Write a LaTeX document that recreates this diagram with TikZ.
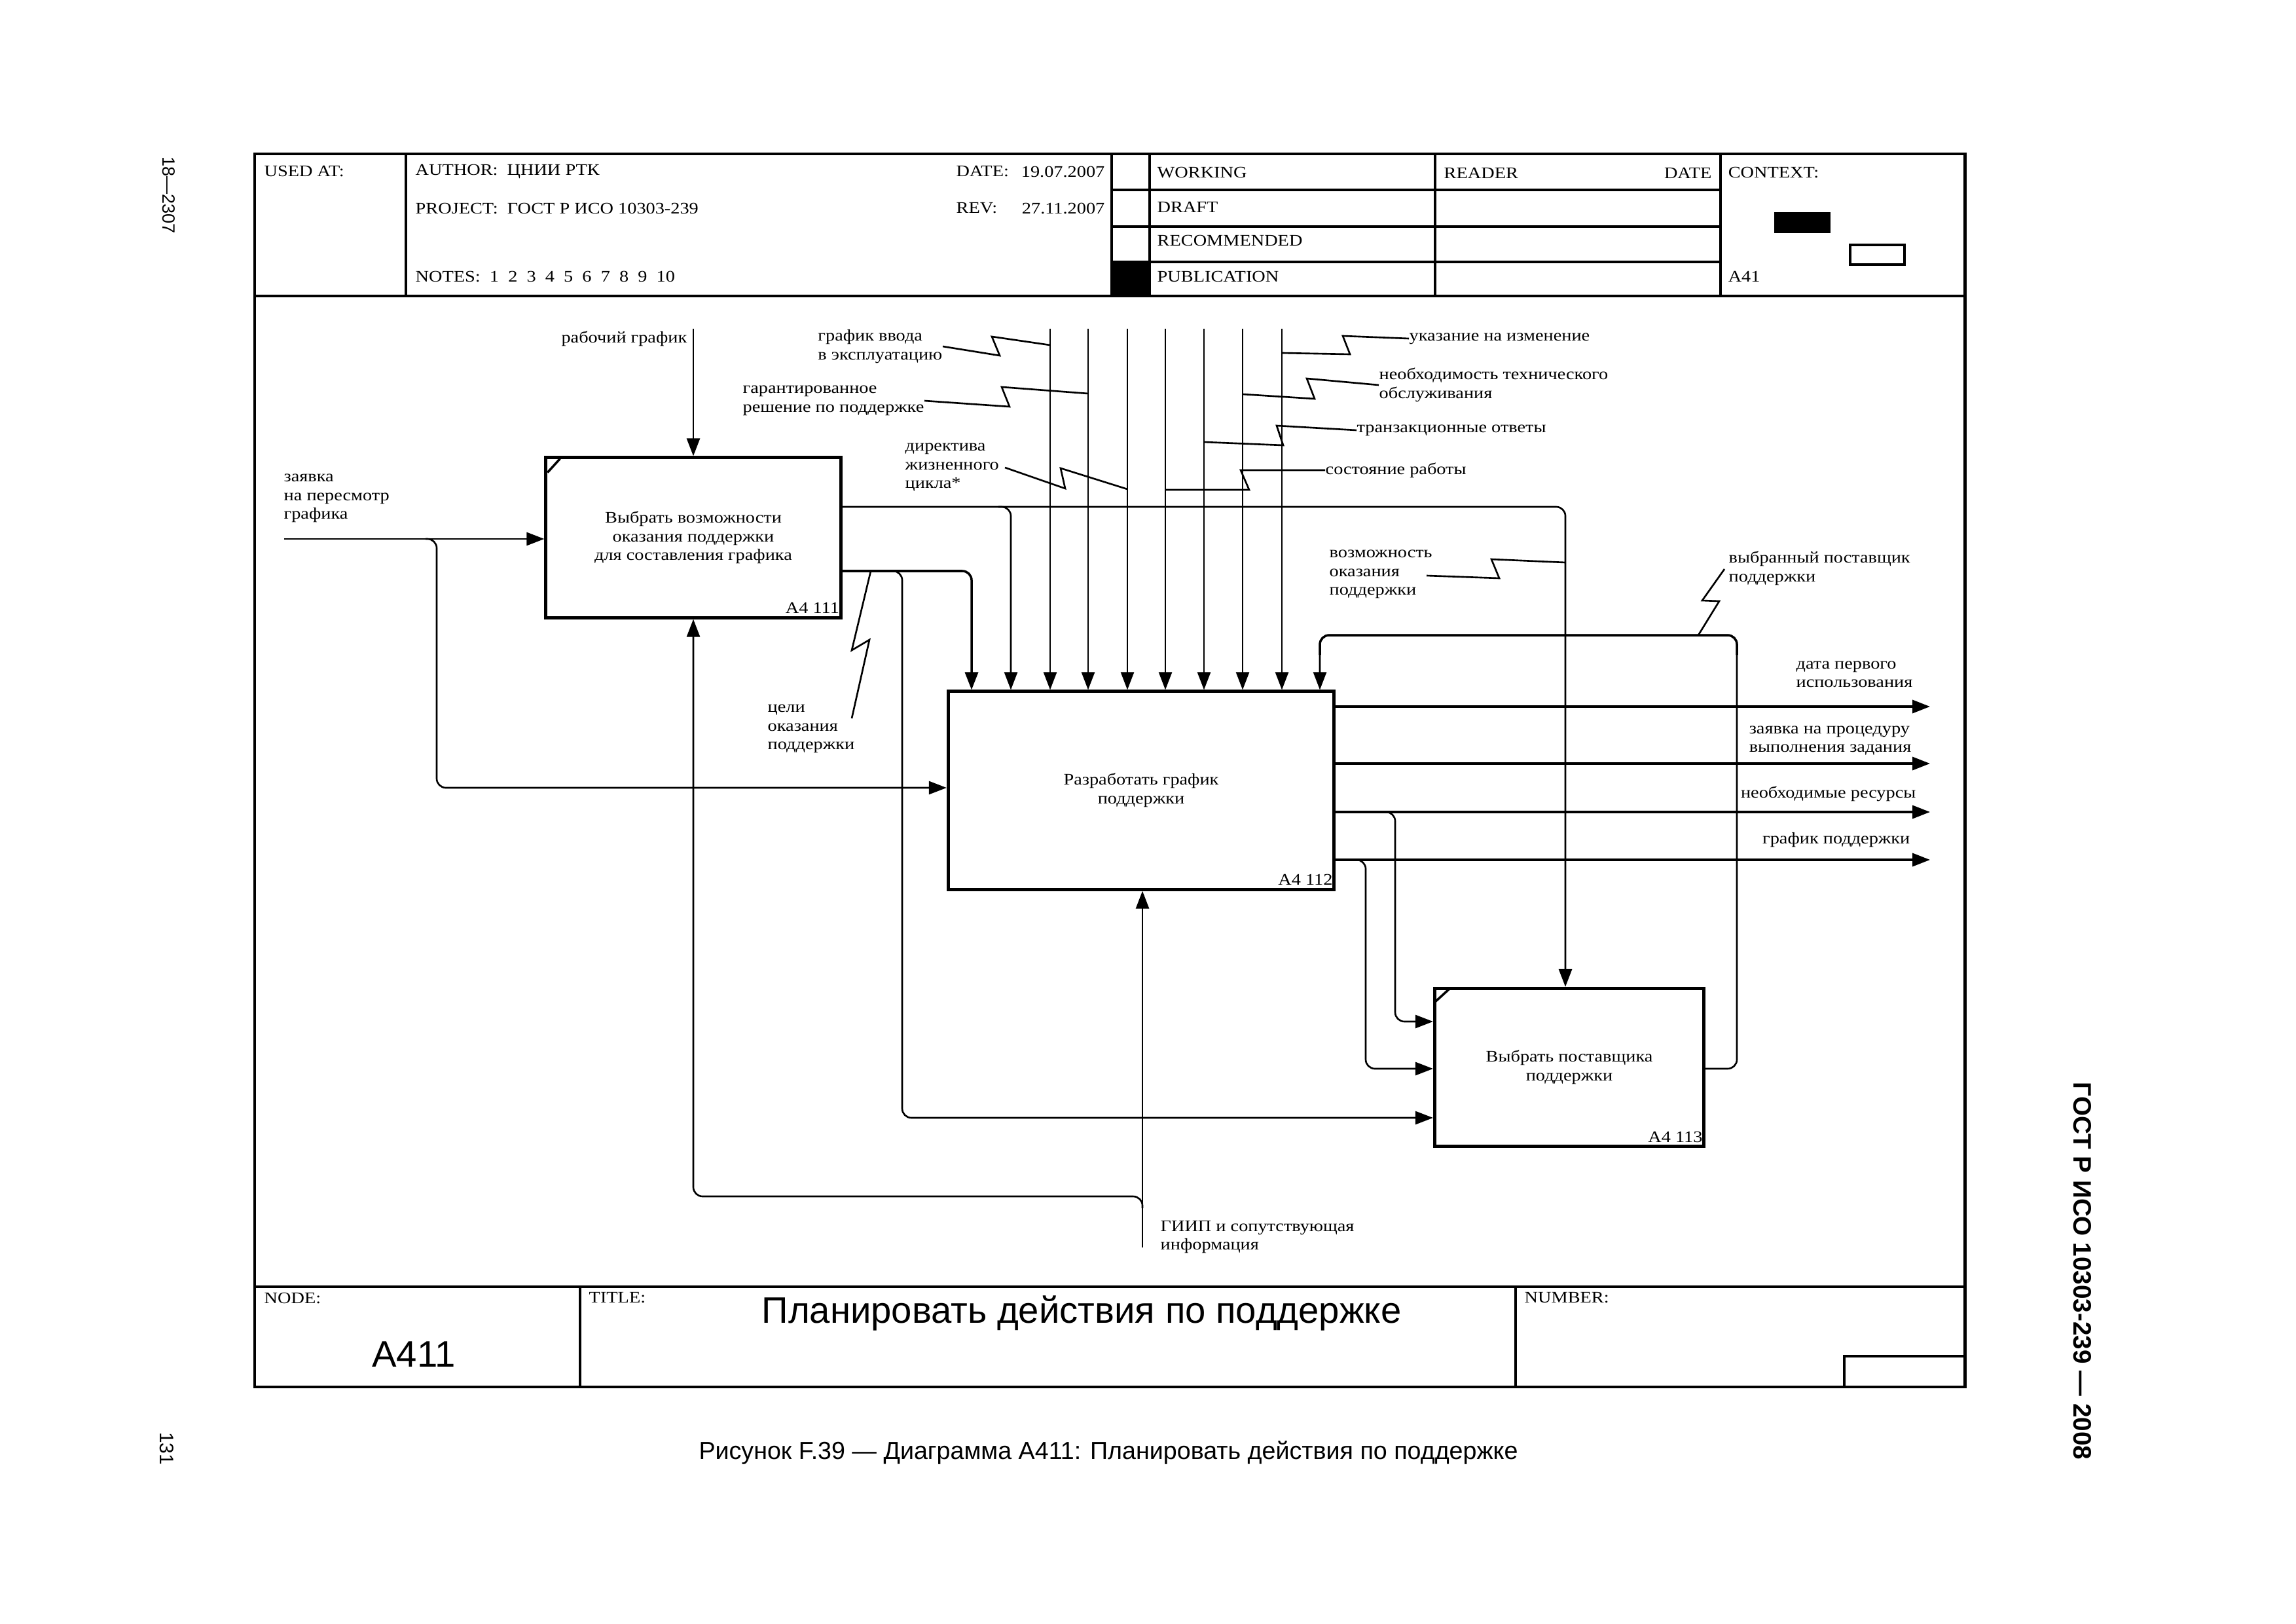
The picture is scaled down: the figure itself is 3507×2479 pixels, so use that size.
\documentclass[tikz,border=0pt]{standalone}
\usepackage{fontspec}
\setmainfont{Liberation Serif}
\newfontfamily\lblfam[FakeStretch=1.15]{Liberation Serif}
\newfontfamily\sansfam{Liberation Sans}
\newcommand\lblfont{\lblfam\fontsize{7}{8.1}\selectfont}
\usetikzlibrary{arrows.meta}

\tikzset{
    box/.style = {
        draw,
        line width   = 1.4pt,
        inner sep    = 0pt,
        align        = center,
        font         = \lblfont
    },
    lbl/.style = {font = \lblfont, inner sep = 0pt, align = left},
    hd/.style  = {font = \lblfont, inner sep = 0pt, anchor = west},
    arr/.style = {
        line width      = 0.75pt,
        rounded corners = 4pt,
        -{Triangle[length=0.27cm,width=0.2cm]}
    },
    heavy/.style = {line width = 1pt},
    lead/.style  = {line width = 0.75pt},
    frame/.style = {line width = 1.1pt}
}

\begin{document}
\begin{tikzpicture}[x=0.01cm, y=-0.01cm]
    \useasboundingbox (0,0) rectangle (3507,2479);

    \draw[line width=1.4pt] (389,235) rectangle (3001,2118);
    \draw[line width=1.4pt] (389,452) -- (3001,452);
    \draw[line width=1.4pt] (389,1965) -- (3001,1965);
    \foreach \x in {620,1698,1756,2192,2628}
        \draw[frame] (\x,235) -- (\x,452);
    \foreach \y in {290,346,400}
        \draw[line width=0.9pt] (1698,\y) -- (2628,\y);
    \fill (1698,400) rectangle (1756,452);
    \fill (2710,324) rectangle (2796,356);
    \draw[frame] (2826,374) rectangle (2909,404);
    \draw[frame] (886,1965) -- (886,2118);
    \draw[frame] (2315,1965) -- (2315,2118);
    \draw[frame] (2817,2118) -- (2817,2071) -- (3001,2071);

    \node[hd] (usedat) at (403,262) {USED AT:};
    \node[hd] (author) at (634,262) {AUTHOR:\ \ ЦНИИ РТК};
    \node[hd] (datel) at (1460,262) {DATE:};
    \node[hd, anchor=east] (datev) at (1688,262) {19.07.2007};
    \node[hd] (project) at (634,318) {PROJECT:\ \ ГОСТ Р ИСО 10303-239};
    \node[hd] (revl) at (1460,318) {REV:};
    \node[hd, anchor=east] (revv) at (1688,318) {27.11.2007};
    \node[hd] (notes) at (634,422) {NOTES:\ \ 1\ \ 2\ \ 3\ \ 4\ \ 5\ \ 6\ \ 7\ \ 8\ \ 9\ \ 10};
    \node[hd] (working) at (1767,264) {WORKING};
    \node[hd] (draft) at (1767,316) {DRAFT};
    \node[hd] (recomm) at (1767,367) {RECOMMENDED};
    \node[hd] (public) at (1767,422) {PUBLICATION};
    \node[hd] (reader) at (2205,264) {READER};
    \node[hd, anchor=east] (rdate) at (2615,264) {DATE};
    \node[hd] (context) at (2639,264) {CONTEXT:};
    \node[hd] (ctxid) at (2639,422) {A41};

    \node[hd] (nodel) at (403,1982) {NODE:};
    \node[hd] (titlel) at (899,1982) {TITLE:};
    \node[hd] (numberl) at (2328,1982) {NUMBER:};
    \node[font=\sansfam\fontsize{16}{18}\selectfont, anchor=base] (nodeid) at (632,2087) {A411};
    \node[font=\sansfam\fontsize{16}{18}\selectfont, anchor=base] (title) at (1652,2020) {Планировать действия по поддержке};

    \node[box, minimum width=4.5cm, minimum height=2.44cm] (b1) at (1059,821)
        {Выбрать возможности\\оказания поддержки\\для составления графика};
    \node[box, minimum width=5.89cm, minimum height=3.02cm] (b2) at (1743,1207)
        {Разработать график\\поддержки};
    \node[box, minimum width=4.11cm, minimum height=2.41cm] (b3) at (2397,1630)
        {Выбрать поставщика\\поддержки};
    \node[lbl, anchor=south east] (id1) at ([shift={(-4,-8)}]b1.south east) {A4 111};
    \node[lbl, anchor=south east] (id2) at ([shift={(-4,-8)}]b2.south east) {A4 112};
    \node[lbl, anchor=south east] (id3) at ([shift={(-4,-8)}]b3.south east) {A4 113};
    \draw[line width=1pt] ([shift={(5,25)}]b1.north west) -- ([shift={(24,4)}]b1.north west);
    \draw[line width=1pt] ([shift={(2,24)}]b3.north west) -- ([shift={(25,3)}]b3.north west);

    \coordinate (c1) at (1059,502);
    \coordinate (i1) at (434,823);
    \coordinate (m1) at (1745,1905);
    \draw[arr] (c1) -- (b1.north);
    \draw[arr] (i1) -- (b1.west |- i1);
    \draw[arr] (650,823) -- (667,823) -- (667,1203) -- (b2.west |- 0,1203);
    \draw[arr] (b1.east |- 0,774) -- (2391,774) -- (b3.north -| 2391,0);
    \draw[arr] (1525,774) -- (1544,774) -- (b2.north -| 1544,0);
    \draw[arr, heavy] (b1.east |- 0,872) -- (1484,872) -- (b2.north -| 1484,0);
    \draw[arr] (1360,872) -- (1378,872) -- (1378,1707) -- (b3.west |- 0,1707);
    \foreach \x in {1604,1662,1722,1780,1839,1898,1958}
        \draw[arr] (\x,502) -- (b2.north -| \x,0);
    \foreach \y in {1079,1166,1240,1313}
        \draw[arr, heavy] (b2.east |- 0,\y) -- (2948,\y);
    \draw[arr] (2112,1240) -- (2131,1240) -- (2131,1560) -- (b3.west |- 0,1560);
    \draw[arr] (2067,1313) -- (2086,1313) -- (2086,1632) -- (b3.west |- 0,1632);
    \draw[arr] (b3.east |- 0,1632) -- (2653,1632) -- (2653,970) -- (2016,970) -- (b2.north -| 2016,0);
    \draw[heavy, rounded corners=4pt] (2653,1000) -- (2653,970) -- (2016,970) -- (2016,1000);
    \draw[arr] (m1) -- (b2.south -| m1);
    \draw[arr] (1745,1845) -- (1745,1827) -- (1059,1827) -- (b1.south);

    \node[lbl, anchor=east] (t-rg) at (1050,517) {рабочий график};
    \node[lbl, anchor=west] (i-zp) at (433,761) {заявка\\на пересмотр\\графика};
    \node[lbl, anchor=west] (m-gi) at (1772,1889) {ГИИП и сопутствующая\\информация};
    \node[lbl, anchor=east] (o-dp) at (2922,1030) {дата первого\\использования};
    \node[lbl, anchor=east] (o-zp) at (2920,1131) {заявка на процедуру\\выполнения задания};
    \node[lbl, anchor=east] (o-nr) at (2927,1212) {необходимые ресурсы};
    \node[lbl, anchor=east] (o-gp) at (2918,1283) {график поддержки};

    \node[lbl, anchor=east] (t-gv) at (1440,529) {график ввода\\в эксплуатацию};
    \draw[lead] (t-gv.east) -- (1527,543) -- (1515,514) -- (1604,527);
    \node[lbl, anchor=east] (t-gr) at (1412,612) {гарантированное\\решение по поддержке};
    \draw[lead] (t-gr.east) -- (1542,621) -- (1530,591) -- (1662,601);
    \node[lbl, anchor=west] (t-dz) at (1382,714) {директива\\жизненного\\цикла*};
    \draw[lead] (1535,714) -- (1627,746) -- (1620,715) -- (1722,747);
    \node[lbl, anchor=west] (t-uk) at (2152,517) {указание на изменение};
    \draw[lead] (t-uk.west) -- (2051,513) -- (2062,541) -- (1958,539);
    \node[lbl, anchor=west] (t-nt) at (2106,588) {необходимость технического\\обслуживания};
    \draw[lead] (t-nt.west) -- (1996,578) -- (2008,609) -- (1898,602);
    \node[lbl, anchor=west] (t-tr) at (2072,657) {транзакционные ответы};
    \draw[lead] (t-tr.west) -- (1950,650) -- (1960,680) -- (1839,675);
    \node[lbl, anchor=west] (t-sr) at (2024,718) {состояние работы};
    \draw[lead] (t-sr.west) -- (1895,718) -- (1908,748) -- (1780,748);
    \node[lbl, anchor=west] (t-vo) at (2030,877) {возможность\\оказания\\поддержки};
    \draw[lead] (2179,879) -- (2290,883) -- (2278,854) -- (2391,859);
    \node[lbl, anchor=west] (t-vp) at (2640,868) {выбранный поставщик\\поддержки};
    \draw[lead] (2634,869) -- (2600,917) -- (2626,918) -- (2594,970);
    \node[lbl, anchor=west] (t-co) at (1172,1113) {цели\\оказания\\поддержки};
    \draw[lead] (1301,1097) -- (1328,977) -- (1301,993) -- (1330,872);

    \node[font=\sansfam\fontsize{7.7}{9}\selectfont, rotate=-90] (pg1) at (258,298) {18—2307};
    \node[font=\sansfam\fontsize{8.5}{10}\selectfont, rotate=-90] (pg2) at (255,2212) {131};
    \node[font=\sansfam\bfseries\fontsize{11}{13}\selectfont, rotate=-90] (gost) at (3181,1941)
        {ГОСТ Р ИСО 10303-239 — 2008};
    \node[font=\sansfam\fontsize{10.7}{12}\selectfont] (caption) at (1693,2218)
        {Рисунок F.39 — Диаграмма A411: Планировать действия по поддержке};
\end{tikzpicture}
\end{document}
